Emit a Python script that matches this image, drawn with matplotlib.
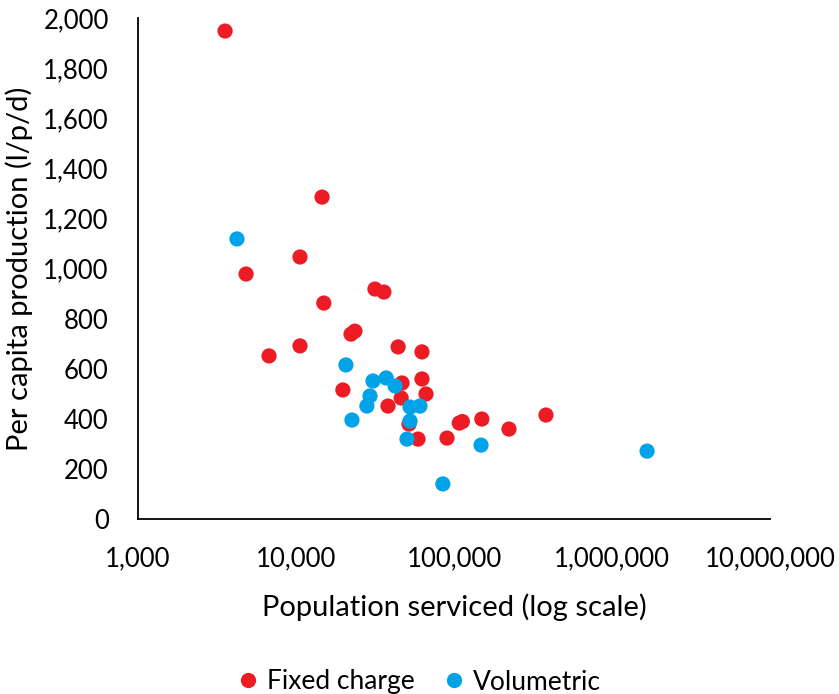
import matplotlib
matplotlib.use("Agg")
import matplotlib.pyplot as plt
from matplotlib.ticker import FuncFormatter, FixedLocator
from matplotlib.lines import Line2D

plt.rcParams['font.family'] = ['Lato', 'DejaVu Sans']

fixed_pop = [3556, 14620, 10600, 4830, 31600, 36000, 15000, 23600, 22300, 6750,
             10600, 44300, 62700, 19800, 46900, 62700, 66500, 46300, 38200, 51900,
             59200, 90300, 108000, 113000, 150000, 222800, 382000]
fixed_lpd = [1948, 1285, 1046, 978, 918, 906, 862, 750, 738, 651,
             691, 687, 667, 515, 543, 559, 499, 483, 451, 379,
             319, 323, 383, 389, 399, 359, 415]

vol_pop = [4230, 20700, 30700, 37200, 42400, 29400, 28100, 52700, 60900, 52700,
           22600, 50400, 148300, 1667000, 85000]
vol_lpd = [1118, 615, 551, 563, 531, 491, 451, 447, 451, 391,
           395, 319, 295, 271, 140]

x_ticks = [1000, 10000, 100000, 1000000, 10000000]
y_ticks = [0, 200, 400, 600, 800, 1000, 1200, 1400, 1600, 1800, 2000]

red = '#ED1C24'
blue = '#00A2E8'

fig = plt.figure(figsize=(8.39, 6.94), dpi=100)
ax = fig.add_axes([138/839, 1-519/694, (770-138)/839, (519-18)/694])

ax.scatter(fixed_pop, fixed_lpd, s=120, color=red, edgecolors='none', zorder=3)
ax.scatter(vol_pop, vol_lpd, s=120, color=blue, edgecolors='none', zorder=3)

ax.set_xscale('log')
ax.set_xlim(1000, 10000000)
ax.set_ylim(0, 2000)
ax.xaxis.set_major_locator(FixedLocator(x_ticks))
ax.xaxis.set_minor_locator(FixedLocator([]))
ax.set_yticks(y_ticks)
fmt = FuncFormatter(lambda v, p: f'{int(round(v)):,}')
ax.xaxis.set_major_formatter(fmt)
ax.yaxis.set_major_formatter(fmt)

for s in ['top', 'right']:
    ax.spines[s].set_visible(False)
for s in ['left', 'bottom']:
    ax.spines[s].set_color('#000000')
    ax.spines[s].set_linewidth(1.3)

ax.tick_params(axis='both', length=0, labelsize=18.5, colors='#000000')
ax.tick_params(axis='x', pad=20)
ax.tick_params(axis='y', pad=21)

ax.set_xlabel('Population serviced (log scale)', fontsize=21, labelpad=15.5)
ax.set_ylabel('Per capita production (l/p/d)', fontsize=21)
ax.yaxis.set_label_coords(-105/632, 0.5)

handles = [Line2D([], [], marker='o', linestyle='none', markersize=11,
                  markerfacecolor=red, markeredgecolor='none', label='Fixed charge'),
           Line2D([], [], marker='o', linestyle='none', markersize=11,
                  markerfacecolor=blue, markeredgecolor='none', label='Volumetric')]
fig.legend(handles=handles, loc='center', bbox_to_anchor=(418/839, 1-682/694),
           ncol=2, frameon=False, fontsize=19, handletextpad=0.2,
           columnspacing=1.0, handlelength=1.0)

fig.savefig('out.png', dpi=100)
